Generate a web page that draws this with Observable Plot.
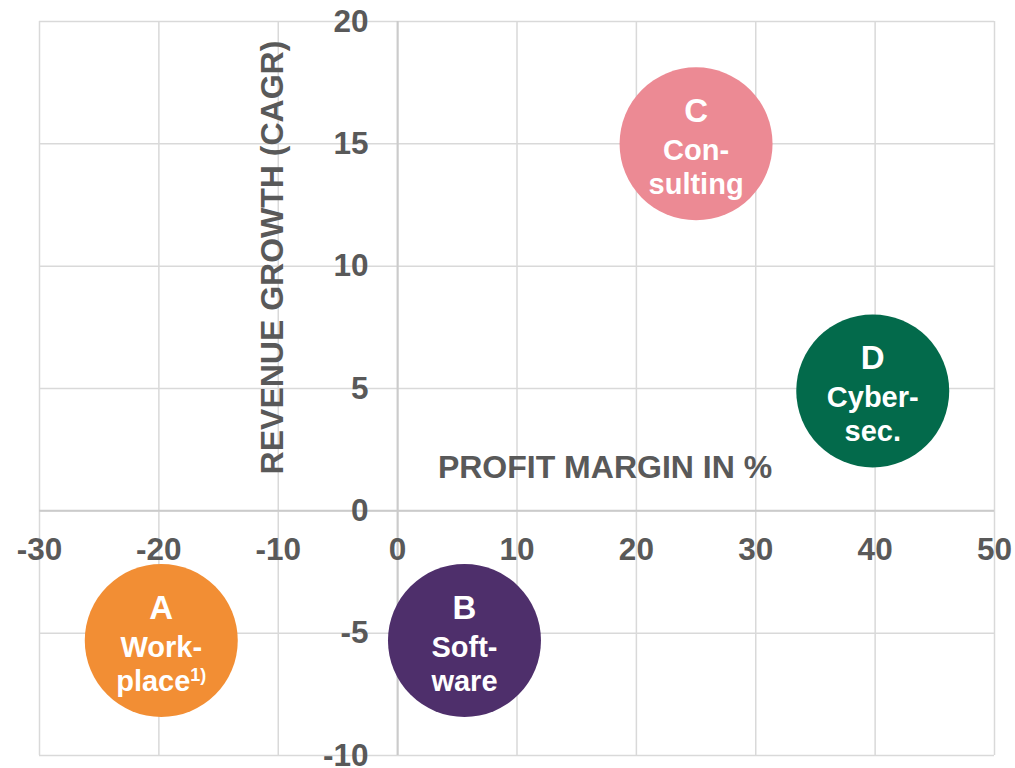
<!DOCTYPE html>
<html><head><meta charset="utf-8">
<script src="https://cdn.jsdelivr.net/npm/d3@7"></script>
<script src="https://cdn.jsdelivr.net/npm/@observablehq/plot@0.6"></script>
<style>
html,body{margin:0;padding:0;background:#fff;}
#chart{width:1015px;height:768px;}
</style></head><body><div id="chart"></div>
<script>
// ---- data ----
const letters = ["A", "B", "C", "D"];
const names = ["Work-\nplace1)", "Soft-\nware", "Con-\nsulting", "Cyber-\nsec."];
const profitMargin = [-19.8, 5.6, 25, 39.8];
const revenueGrowth = [-5.3, -5.3, 15, 4.9];
const bubbleColors = ["#F28E34", "#4E2F6B", "#EC8A94", "#036A4B"];
const xTicks = [-30, -20, -10, 0, 10, 20, 30, 40, 50];
const xTickLabels = ["-30", "-20", "-10", "0", "10", "20", "30", "40", "50"];
const yTicks = [-10, -5, 0, 5, 10, 15, 20];
const yTickLabels = ["-10", "-5", "0", "5", "10", "15", "20"];
const xTitle = "PROFIT MARGIN IN %";
const yTitle = "REVENUE GROWTH (CAGR)";

const data = letters.map((l, i) => ({letter: l, name: names[i], margin: profitMargin[i], growth: revenueGrowth[i]}));
const xTickData = xTicks.map((v, i) => ({v, label: xTickLabels[i]}));
const yTickData = yTicks.map((v, i) => ({v, label: yTickLabels[i]}));

const FONT = "Arial, 'Liberation Sans', sans-serif";
const GRAY = "#595959";

const chart = Plot.plot({
  width: 1015, height: 768,
  marginLeft: 39, marginRight: 21, marginTop: 21, marginBottom: 13,
  style: {fontFamily: FONT, background: "#fff"},
  x: {domain: [-30, 50], axis: null},
  y: {domain: [-10, 20], axis: null},
  color: {domain: letters, range: bubbleColors},
  marks: [
    Plot.ruleX(xTicks, {stroke: "#d9d9d9", strokeWidth: 1.5}),
    Plot.ruleY(yTicks, {stroke: "#d9d9d9", strokeWidth: 1.5}),
    Plot.ruleX([0], {stroke: "#cbcbcb", strokeWidth: 2}),
    Plot.ruleY([0], {stroke: "#cbcbcb", strokeWidth: 2}),
    Plot.text(xTickData, {x: "v", y: () => 0, text: "label", dy: 39, lineAnchor: "middle", textAnchor: "middle",
      fontSize: 31.5, fontWeight: "bold", fill: GRAY}),
    Plot.text(yTickData, {x: () => 0, y: "v", text: "label", dx: -29, lineAnchor: "middle", textAnchor: "end",
      fontSize: 31.5, fontWeight: "bold", fill: GRAY}),
    Plot.text([xTitle], {frameAnchor: "middle", text: d => d, dx: 88, dy: 79, lineAnchor: "middle",
      fontSize: 32, fontWeight: "bold", fill: GRAY}),
    Plot.text([yTitle], {frameAnchor: "middle", text: d => d, rotate: -90, dx: -244, dy: -131, lineAnchor: "middle",
      fontSize: 32, fontWeight: "bold", fill: GRAY}),
    Plot.dot(data, {x: "margin", y: "growth", r: 76.5, fill: "letter", stroke: null}),
    Plot.text(data, {x: "margin", y: "growth", text: "letter", dy: -22, lineAnchor: "bottom",
      fontSize: 33, fontWeight: "bold", fill: "white"}),
    Plot.text(data, {x: "margin", y: "growth", text: "name", dy: 50, lineAnchor: "bottom", lineHeight: 34 / 29,
      fontSize: 29, fontWeight: "bold", fill: "white"})
  ]
});

// superscript footnote marker
chart.querySelectorAll("tspan, text").forEach(el => {
  if (el.childElementCount === 0 && el.textContent === "place1)") {
    el.textContent = "place";
    const sup = document.createElementNS("http://www.w3.org/2000/svg", "tspan");
    sup.setAttribute("font-size", "18");
    sup.setAttribute("dy", "-10");
    sup.textContent = "1)";
    el.appendChild(sup);
  }
});

document.getElementById("chart").appendChild(chart);
</script>
</body></html>
